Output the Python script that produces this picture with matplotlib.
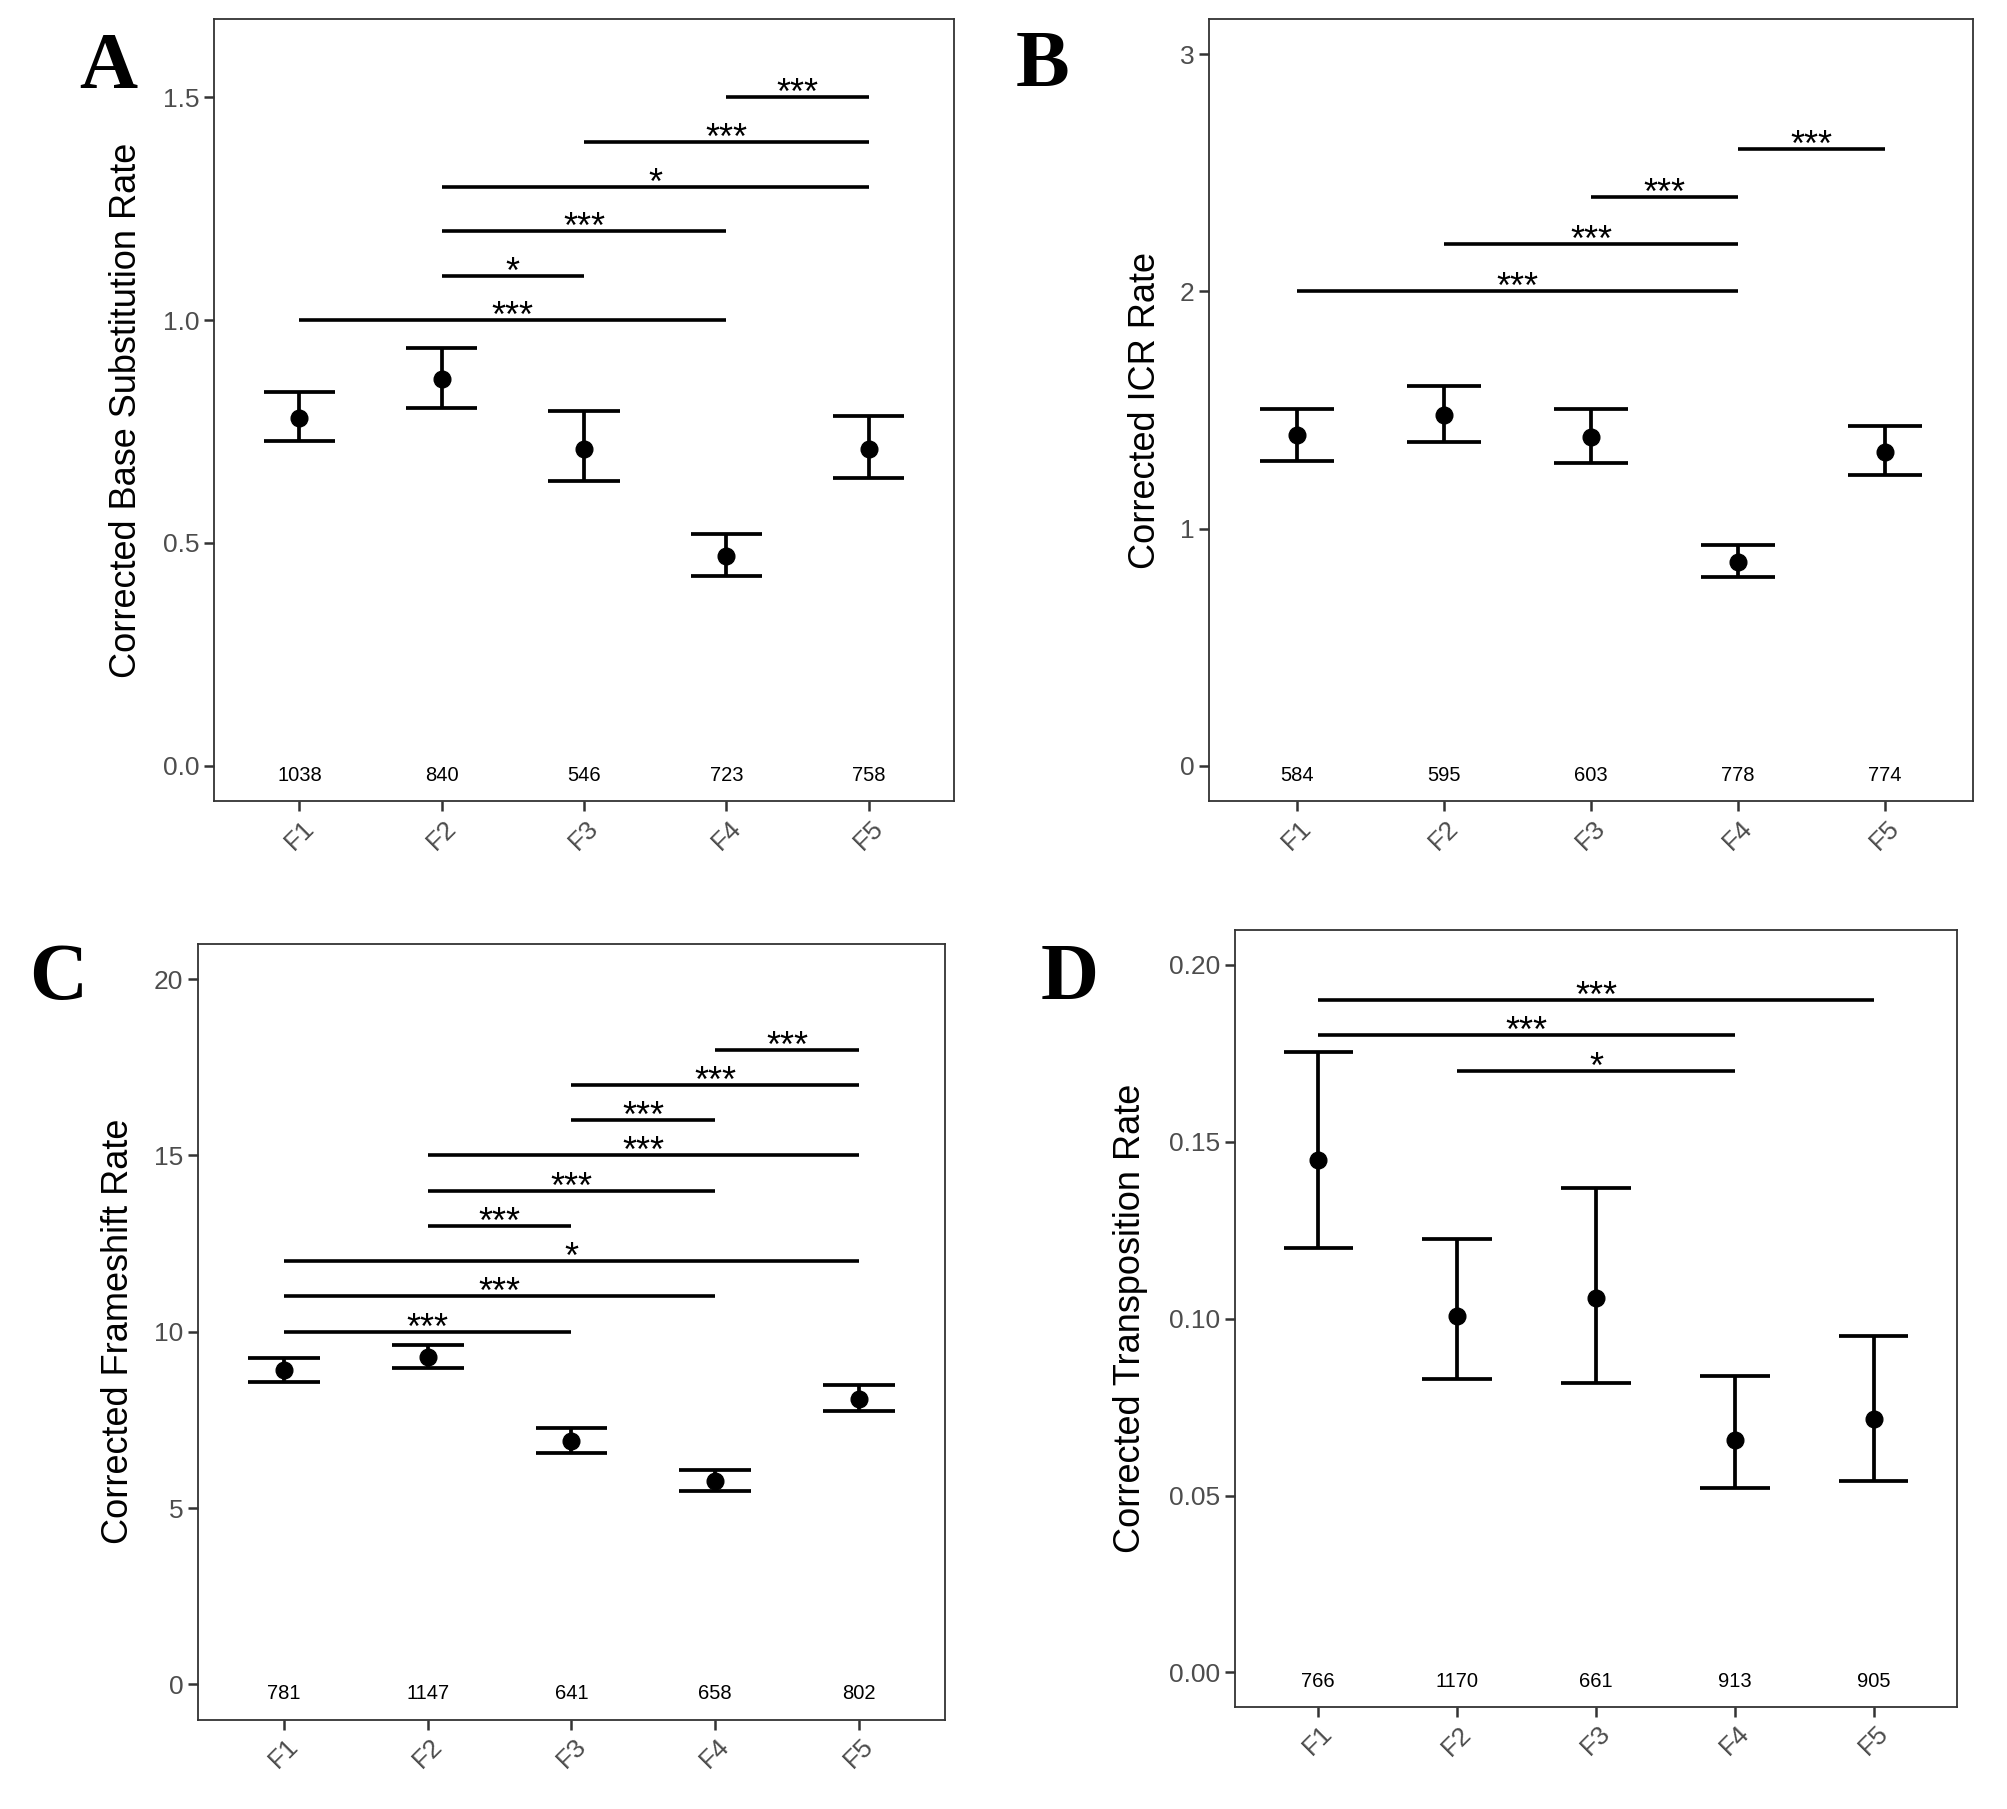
import matplotlib.pyplot as plt

plt.rcParams['font.family'] = ['Liberation Sans', 'DejaVu Sans']

groups = ['F1', 'F2', 'F3', 'F4', 'F5']

# A: base substitutions
bs_mean = [0.781, 0.868, 0.712, 0.470, 0.712]
bs_low = [0.729, 0.804, 0.639, 0.425, 0.647]
bs_high = [0.839, 0.938, 0.796, 0.520, 0.784]
bs_n = [1038, 840, 546, 723, 758]
bs_sig = [(1, 4, 1.0, '***'), (2, 3, 1.1, '*'), (2, 4, 1.2, '***'),
          (2, 5, 1.3, '*'), (3, 5, 1.4, '***'), (4, 5, 1.5, '***')]

# B: ICR
icr_mean = [1.393, 1.477, 1.388, 0.860, 1.324]
icr_low = [1.287, 1.366, 1.275, 0.794, 1.224]
icr_high = [1.506, 1.600, 1.506, 0.931, 1.432]
icr_n = [584, 595, 603, 778, 774]
icr_sig = [(1, 4, 2.0, '***'), (2, 4, 2.2, '***'), (3, 4, 2.4, '***'),
           (4, 5, 2.6, '***')]

# C: frameshifts
fs_mean = [8.91, 9.27, 6.89, 5.77, 8.08]
fs_low = [8.56, 8.98, 6.55, 5.49, 7.74]
fs_high = [9.26, 9.62, 7.27, 6.07, 8.48]
fs_n = [781, 1147, 641, 658, 802]
fs_sig = [(1, 3, 10, '***'), (1, 4, 11, '***'), (1, 5, 12, '*'),
          (2, 3, 13, '***'), (2, 4, 14, '***'), (2, 5, 15, '***'),
          (3, 4, 16, '***'), (3, 5, 17, '***'), (4, 5, 18, '***')]

# D: transpositions
tp_mean = [0.1449, 0.1007, 0.1058, 0.0658, 0.0716]
tp_low = [0.1200, 0.0830, 0.0817, 0.0520, 0.0541]
tp_high = [0.1752, 0.1224, 0.1370, 0.0837, 0.0950]
tp_n = [766, 1170, 661, 913, 905]
tp_sig = [(1, 5, 0.19, '***'), (1, 4, 0.18, '***'), (2, 4, 0.17, '*')]


def draw_panel(ax, mean, low, high, n, sig, ylabel, yticks, yticklabels, ylim, labelx):
	x = list(range(1, len(groups) + 1))
	ax.vlines(x, low, high, color='black', lw=2.7)
	ax.hlines(low, [i - 0.25 for i in x], [i + 0.25 for i in x], color='black', lw=2.7)
	ax.hlines(high, [i - 0.25 for i in x], [i + 0.25 for i in x], color='black', lw=2.7)
	ax.plot(x, mean, 'o', color='black', markersize=12)
	for (a, b, y, s) in sig:
		ax.hlines(y, a, b, color='black', lw=2.6)
		ax.annotate(s, xy=((a + b) / 2, y), xytext=(0, -5), textcoords='offset points',
			ha='center', va='baseline', fontsize=26)
	for i, c in zip(x, n):
		ax.text(i, 0, str(c), ha='center', va='top', fontsize=14.5)
	ax.set_xlim(0.4, 5.6)
	ax.set_ylim(*ylim)
	ax.set_xticks(x)
	ax.set_xticklabels(groups, rotation=45, ha='center', va='top')
	ax.set_yticks(yticks)
	ax.set_yticklabels(yticklabels)
	ax.tick_params(labelsize=19, labelcolor='#4D4D4D', color='#333333', length=7, width=1.8)
	for sp in ax.spines.values():
		sp.set_color('#333333')
		sp.set_linewidth(1.3)
	ax.set_ylabel(ylabel, fontsize=26, va='center')
	ax.yaxis.set_label_coords(labelx, 0.5)


fig = plt.figure(figsize=(20.08, 18.09), dpi=100)

axA = fig.add_axes([0.1066, 0.557, 0.3685, 0.4327])
draw_panel(axA, bs_mean, bs_low, bs_high, bs_n, bs_sig, 'Corrected Base Substitution Rate',
	[0, 0.5, 1.0, 1.5], ['0.0', '0.5', '1.0', '1.5'], (-0.08, 1.677), -0.118)

axB = fig.add_axes([0.602, 0.557, 0.3806, 0.4327])
draw_panel(axB, icr_mean, icr_low, icr_high, icr_n, icr_sig, 'Corrected ICR Rate',
	[0, 1, 2, 3], ['0', '1', '2', '3'], (-0.15, 3.15), -0.0825)

axC = fig.add_axes([0.0986, 0.0494, 0.372, 0.4289])
draw_panel(axC, fs_mean, fs_low, fs_high, fs_n, fs_sig, 'Corrected Frameshift Rate',
	[0, 5, 10, 15, 20], ['0', '5', '10', '15', '20'], (-1, 21), -0.107)

axD = fig.add_axes([0.615, 0.0565, 0.3596, 0.4292])
draw_panel(axD, tp_mean, tp_low, tp_high, tp_n, tp_sig, 'Corrected Transposition Rate',
	[0, 0.05, 0.10, 0.15, 0.20], ['0.00', '0.05', '0.10', '0.15', '0.20'], (-0.0097, 0.2097), -0.145)

# panel letters
for s, x, y in [('A', 0.0393, 0.9514), ('B', 0.506, 0.9525), ('C', 0.0144, 0.4478), ('D', 0.518, 0.4478)]:
	fig.text(x, y, s, fontsize=58, fontweight='bold', family='Liberation Serif', ha='left', va='baseline')

fig.savefig('out.png', dpi=100)
